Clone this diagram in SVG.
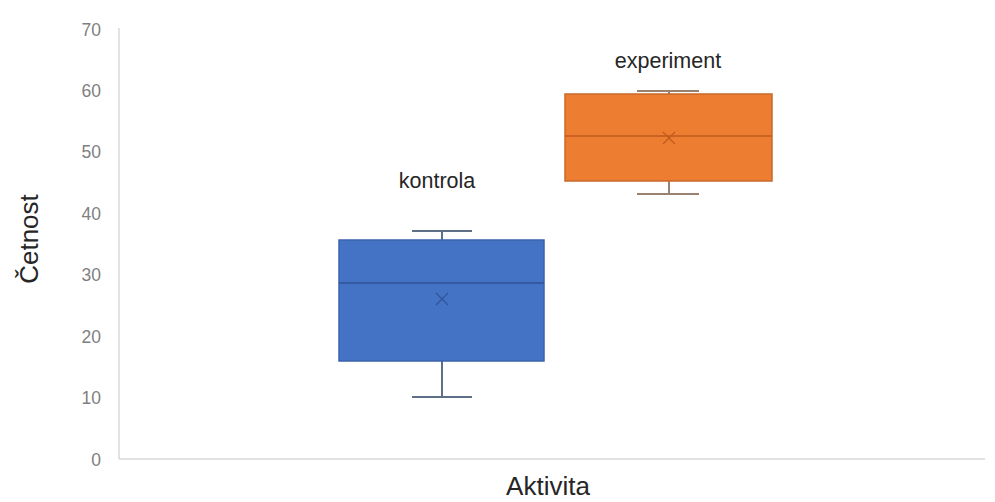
<svg xmlns="http://www.w3.org/2000/svg" width="995" height="502" viewBox="0 0 995 502">
<style>
.tick{font-family:"Liberation Sans",Arial,sans-serif;font-size:17.5px;fill:#7f7f7f;text-anchor:end}
.lbl{font-family:"Liberation Sans",Arial,sans-serif;font-size:21.5px;fill:#262626;text-anchor:middle}
.title{font-family:"Liberation Sans",Arial,sans-serif;font-size:26px;fill:#262626;text-anchor:middle}
.axis{stroke:#d9d9d9;stroke-width:1.5;fill:none}
.whB{stroke:#5f6f86;stroke-width:2;fill:none}
.whO{stroke:#9a8270;stroke-width:2;fill:none}
</style>
<rect width="995" height="502" fill="#ffffff"/>
<g id="axes">
<line class="axis" x1="119" y1="28" x2="119" y2="459"/>
<line class="axis" x1="119" y1="459" x2="985" y2="459"/>
<text class="tick" x="101" y="36">70</text>
<text class="tick" x="101" y="97">60</text>
<text class="tick" x="101" y="158">50</text>
<text class="tick" x="101" y="220">40</text>
<text class="tick" x="101" y="281">30</text>
<text class="tick" x="101" y="343">20</text>
<text class="tick" x="101" y="404">10</text>
<text class="tick" x="101" y="466">0</text>
<text class="title" transform="translate(38,239) rotate(-90)">Četnost</text>
<text class="title" x="548" y="495">Aktivita</text>
</g>
<g id="kontrola">
<line class="whB" x1="442" y1="231" x2="442" y2="240"/>
<line class="whB" x1="412" y1="231" x2="472" y2="231"/>
<line class="whB" x1="442" y1="361" x2="442" y2="397"/>
<line class="whB" x1="412" y1="397" x2="472" y2="397"/>
<rect x="339" y="240" width="205" height="121" fill="#4472c4" stroke="#3b63ad" stroke-width="1.5"/>
<line x1="339" y1="283" x2="544" y2="283" stroke="#2f5597" stroke-width="1.5"/>
<path d="M436 293 L448 305 M448 293 L436 305" stroke="#2f5597" stroke-width="1.2"/>
<text class="lbl" x="437" y="188">kontrola</text>
</g>
<g id="experiment">
<line class="whO" x1="669" y1="91" x2="669" y2="94"/>
<line class="whO" x1="637" y1="91" x2="699" y2="91"/>
<line class="whO" x1="669" y1="181" x2="669" y2="194"/>
<line class="whO" x1="637" y1="194" x2="699" y2="194"/>
<rect x="565" y="94" width="207" height="87" fill="#ed7d31" stroke="#c8692a" stroke-width="1.5"/>
<line x1="565" y1="136" x2="772" y2="136" stroke="#c05a1c" stroke-width="1.5"/>
<path d="M663 132 L675 144 M675 132 L663 144" stroke="#c05a1c" stroke-width="1.2"/>
<text class="lbl" x="668" y="68">experiment</text>
</g>
<g id="connectors"></g>
</svg>
